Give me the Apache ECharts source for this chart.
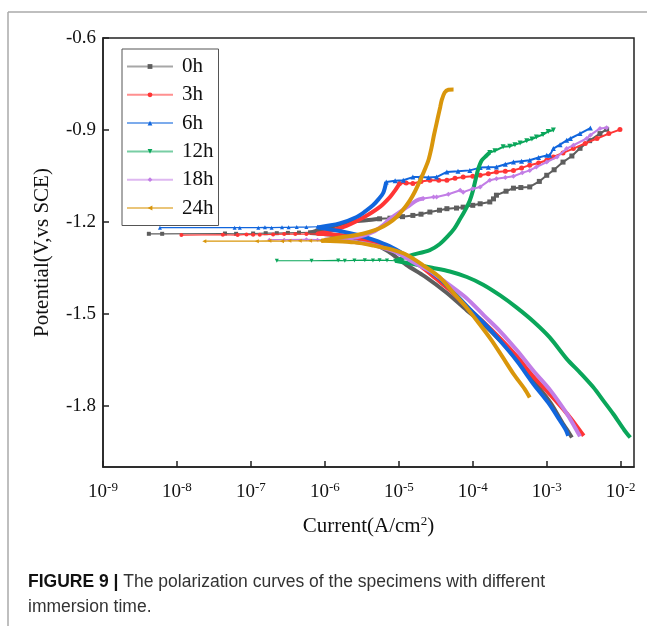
<!DOCTYPE html>
<html>
<head>
<meta charset="utf-8">
<script src="https://cdn.jsdelivr.net/npm/echarts@6/dist/echarts.min.js"></script>
<style>
  html, body { margin: 0; padding: 0; background: #fff; }
  #chart { width: 647px; height: 626px; }
</style>
</head>
<body>
<div id="chart"></div>
<script>
// x values are log10(current, A/cm2), y values are potential (V vs SCE)
const names = ['0h', '3h', '6h', '12h', '18h', '24h']
const colors = ['#5e5e5e', '#ff3535', '#1166dd', '#0aa65a', '#c27ee6', '#d9960b']
const symbols = ['rect', 'circle', 'triangle', 'triangle', 'diamond', 'triangle']
const rotations = [0, 0, 0, 180, 0, 90]

const xTicks = [-9, -8, -7, -6, -5, -4, -3, -2]
const yTicks = [-1.8, -1.5, -1.2, -0.9, -0.6]

// horizontal spikes at Ecorr
const tail0h = [[-8.38, -1.239], [-8.20, -1.239], [-7.35, -1.238], [-7.20, -1.239], [-6.97, -1.238], [-6.80, -1.237], [-6.65, -1.237], [-6.50, -1.236], [-6.35, -1.235], [-6.20, -1.234]]
const tail3h = [[-7.94, -1.243], [-7.38, -1.242], [-7.18, -1.243], [-7.06, -1.241], [-6.97, -1.242], [-6.88, -1.242], [-6.70, -1.241], [-6.55, -1.240], [-6.40, -1.240], [-6.25, -1.240], [-6.10, -1.239]]
const tail6h = [[-8.23, -1.219], [-7.22, -1.219], [-7.15, -1.219], [-6.90, -1.219], [-6.81, -1.218], [-6.72, -1.219], [-6.58, -1.218], [-6.49, -1.218], [-6.38, -1.217], [-6.25, -1.217], [-6.10, -1.216]]
const tail12h = [[-6.65, -1.327], [-6.18, -1.327], [-5.82, -1.326], [-5.73, -1.327], [-5.60, -1.326], [-5.46, -1.325], [-5.35, -1.326], [-5.26, -1.325], [-5.16, -1.326], [-5.05, -1.327]]
const tail18h = [[-6.75, -1.258], [-6.55, -1.258], [-6.25, -1.257], [-6.10, -1.258], [-6.00, -1.258]]
const tail24h = [[-7.63, -1.263], [-6.92, -1.263], [-6.75, -1.262], [-6.58, -1.263], [-6.48, -1.262], [-6.34, -1.262], [-6.20, -1.262], [-6.05, -1.262]]

// cathodic branches, from the low-potential end up to Ecorr
const cath0h = [[-2.66, -1.904], [-2.72, -1.880], [-2.78, -1.859], [-2.95, -1.790], [-3.18, -1.718], [-3.40, -1.650], [-3.63, -1.588], [-3.85, -1.535], [-4.08, -1.489], [-4.35, -1.432], [-4.65, -1.378], [-4.90, -1.340], [-5.15, -1.295], [-5.35, -1.270], [-5.60, -1.253], [-5.85, -1.243], [-6.20, -1.236]]
const cath3h = [[-2.50, -1.898], [-2.60, -1.865], [-2.73, -1.825], [-2.95, -1.765], [-3.18, -1.705], [-3.40, -1.640], [-3.63, -1.580], [-3.85, -1.528], [-4.08, -1.478], [-4.30, -1.425], [-4.50, -1.385], [-4.70, -1.345], [-4.89, -1.315], [-5.10, -1.288], [-5.35, -1.266], [-5.60, -1.250], [-5.85, -1.242], [-6.10, -1.239]]
const cath6h = [[-2.71, -1.898], [-2.74, -1.880], [-2.82, -1.849], [-2.98, -1.790], [-3.18, -1.729], [-3.40, -1.655], [-3.63, -1.588], [-3.85, -1.530], [-4.08, -1.475], [-4.30, -1.420], [-4.45, -1.385], [-4.67, -1.345], [-4.90, -1.310], [-5.12, -1.280], [-5.35, -1.258], [-5.57, -1.242], [-5.80, -1.230], [-6.10, -1.218]]
const cath12h = [[-1.87, -1.904], [-1.95, -1.880], [-2.10, -1.827], [-2.23, -1.785], [-2.37, -1.740], [-2.55, -1.692], [-2.73, -1.647], [-2.96, -1.577], [-3.18, -1.525], [-3.41, -1.479], [-3.63, -1.440], [-3.86, -1.405], [-4.08, -1.380], [-4.31, -1.362], [-4.55, -1.350], [-4.80, -1.338], [-5.05, -1.327]]
const cath18h = [[-2.55, -1.900], [-2.62, -1.870], [-2.73, -1.825], [-2.95, -1.750], [-3.18, -1.686], [-3.40, -1.620], [-3.63, -1.557], [-3.85, -1.505], [-4.08, -1.450], [-4.35, -1.400], [-4.58, -1.360], [-4.80, -1.333], [-5.03, -1.300], [-5.25, -1.282], [-5.44, -1.271], [-5.70, -1.263], [-6.00, -1.258]]
const cath24h = [[-3.23, -1.773], [-3.30, -1.745], [-3.45, -1.696], [-3.60, -1.640], [-3.75, -1.585], [-3.92, -1.530], [-4.08, -1.481], [-4.25, -1.435], [-4.45, -1.380], [-4.65, -1.345], [-4.89, -1.308], [-5.10, -1.290], [-5.35, -1.277], [-5.60, -1.267], [-5.85, -1.263], [-6.05, -1.262]]

// smooth anodic rise, from Ecorr upward
const rise0h = [[-6.20, -1.236], [-6.05, -1.225], [-5.85, -1.212], [-5.66, -1.200], [-5.44, -1.195], [-5.26, -1.190]]
const rise3h = [[-6.10, -1.239], [-5.90, -1.228], [-5.70, -1.212], [-5.48, -1.186], [-5.26, -1.152], [-5.12, -1.119], [-5.05, -1.097], [-4.99, -1.075]]
const rise6h = [[-6.10, -1.218], [-5.80, -1.205], [-5.57, -1.184], [-5.45, -1.165], [-5.35, -1.146], [-5.27, -1.125], [-5.21, -1.105], [-5.17, -1.070]]
const rise12h = [[-5.05, -1.327], [-4.85, -1.310], [-4.58, -1.292], [-4.45, -1.273], [-4.35, -1.250], [-4.25, -1.222], [-4.17, -1.190], [-4.11, -1.165], [-4.04, -1.130], [-4.00, -1.100], [-3.96, -1.060], [-3.93, -1.030], [-3.88, -1.000], [-3.82, -0.985], [-3.77, -0.974]]
const rise18h = [[-6.00, -1.258], [-5.57, -1.250], [-5.35, -1.233], [-5.22, -1.212], [-5.12, -1.190], [-5.00, -1.170], [-4.89, -1.152], [-4.76, -1.130], [-4.67, -1.124]]
const rise24h = [[-6.05, -1.262], [-5.80, -1.251], [-5.57, -1.243], [-5.40, -1.233], [-5.26, -1.221], [-5.14, -1.205], [-5.03, -1.184], [-4.94, -1.160], [-4.85, -1.130], [-4.78, -1.100], [-4.71, -1.064], [-4.65, -1.030], [-4.60, -0.999], [-4.56, -0.960], [-4.53, -0.923], [-4.50, -0.890], [-4.47, -0.857], [-4.44, -0.825], [-4.42, -0.803], [-4.38, -0.778], [-4.33, -0.769], [-4.26, -0.768]]

// noisy anodic parts drawn with markers
const anodic0h = [[-5.26, -1.190], [-5.12, -1.188], [-4.95, -1.183], [-4.81, -1.179], [-4.70, -1.175], [-4.58, -1.168], [-4.45, -1.162], [-4.35, -1.157], [-4.22, -1.155], [-4.13, -1.152], [-4.00, -1.146], [-3.90, -1.141], [-3.77, -1.135], [-3.72, -1.125], [-3.68, -1.113], [-3.55, -1.100], [-3.45, -1.090], [-3.35, -1.088], [-3.23, -1.086], [-3.10, -1.068], [-3.00, -1.048], [-2.90, -1.030], [-2.78, -1.005], [-2.66, -0.985], [-2.55, -0.960], [-2.42, -0.935], [-2.28, -0.912], [-2.19, -0.898]]
const anodic3h = [[-4.99, -1.075], [-4.90, -1.073], [-4.81, -1.075], [-4.70, -1.068], [-4.58, -1.064], [-4.46, -1.064], [-4.35, -1.064], [-4.24, -1.058], [-4.13, -1.054], [-4.00, -1.051], [-3.90, -1.048], [-3.79, -1.043], [-3.68, -1.037], [-3.56, -1.035], [-3.45, -1.032], [-3.34, -1.024], [-3.23, -1.015], [-3.11, -1.008], [-3.00, -0.999], [-2.91, -0.988], [-2.78, -0.975], [-2.64, -0.961], [-2.48, -0.944], [-2.32, -0.928], [-2.16, -0.912], [-2.01, -0.899]]
const anodic6h = [[-5.17, -1.070], [-5.05, -1.066], [-4.94, -1.064], [-4.81, -1.054], [-4.71, -1.054], [-4.60, -1.055], [-4.49, -1.054], [-4.35, -1.037], [-4.20, -1.035], [-4.04, -1.032], [-3.90, -1.023], [-3.79, -1.022], [-3.68, -1.021], [-3.56, -1.012], [-3.45, -1.005], [-3.34, -1.002], [-3.23, -0.999], [-3.11, -0.990], [-3.00, -0.983], [-2.96, -0.983], [-2.91, -0.961], [-2.82, -0.948], [-2.73, -0.934], [-2.68, -0.928], [-2.55, -0.912], [-2.41, -0.894]]
const anodic12h = [[-3.77, -0.974], [-3.70, -0.968], [-3.59, -0.955], [-3.50, -0.953], [-3.43, -0.948], [-3.36, -0.943], [-3.27, -0.935], [-3.20, -0.930], [-3.14, -0.923], [-3.05, -0.915], [-2.98, -0.905], [-2.91, -0.900]]
const anodic18h = [[-4.67, -1.124], [-4.53, -1.119], [-4.49, -1.119], [-4.33, -1.110], [-4.17, -1.097], [-4.13, -1.103], [-4.00, -1.092], [-3.90, -1.086], [-3.77, -1.064], [-3.68, -1.059], [-3.56, -1.055], [-3.45, -1.051], [-3.33, -1.040], [-3.23, -1.032], [-3.14, -1.021], [-3.00, -1.005], [-2.86, -0.988], [-2.73, -0.961], [-2.64, -0.950], [-2.46, -0.928], [-2.41, -0.917], [-2.28, -0.895], [-2.19, -0.893]]
const anodic24h = []

const tails = [tail0h, tail3h, tail6h, tail12h, tail18h, tail24h]
const caths = [cath0h, cath3h, cath6h, cath12h, cath18h, cath24h]
const rises = [rise0h, rise3h, rise6h, rise12h, rise18h, rise24h]
const anodics = [anodic0h, anodic3h, anodic6h, anodic12h, anodic18h, anodic24h]

const serif = '"Liberation Serif", "Times New Roman", serif'
const sans = '"Liberation Sans", Arial, sans-serif'

const series = []
names.forEach((name, i) => {
  const base = {
    type: 'line',
    name,
    color: colors[i],
    symbol: symbols[i],
    symbolRotate: rotations[i],
    showAllSymbol: true,
    z: 2 + i
  }
  // thin tail goes first so the legend icon uses its style
  series.push({ ...base, data: tails[i], symbolSize: 4, lineStyle: { width: 1.2 } })
  series.push({ ...base, data: caths[i], showSymbol: false, smooth: 0.3, lineStyle: { width: 4 } })
  series.push({ ...base, data: rises[i], showSymbol: false, smooth: 0.3, lineStyle: { width: 4 } })
  if (anodics[i].length) {
    series.push({ ...base, data: anodics[i], symbolSize: 5, lineStyle: { width: 2 } })
  }
})

const chart = echarts.init(document.getElementById('chart'))
chart.setOption({
  animation: false,
  grid: { left: 103, right: 13, top: 38, bottom: 159, show: true, borderColor: '#222', borderWidth: 1.5 },
  legend: {
    data: names,
    orient: 'vertical',
    left: 122,
    top: 49,
    itemWidth: 46,
    itemHeight: 6,
    itemGap: 7.3,
    padding: [7, 5, 7, 4],
    borderColor: '#555',
    borderWidth: 1,
    lineStyle: { opacity: 0.55 },
    textStyle: { fontFamily: serif, fontSize: 21, color: '#111', padding: [0, 0, 0, 4], lineHeight: 20 }
  },
  xAxis: {
    type: 'value',
    min: -9,
    max: -1.82,
    name: '{t|Current(A/cm}{s|2}{t|)}',
    nameLocation: 'middle',
    nameGap: 48,
    nameTextStyle: {
      rich: {
        t: { fontFamily: serif, fontSize: 21, color: '#111' },
        s: { fontFamily: serif, fontSize: 13, color: '#111', padding: [0, 0, 10, 0] }
      }
    },
    axisLine: { lineStyle: { color: '#222', width: 1.5 } },
    axisTick: { inside: true, length: 6, customValues: xTicks, lineStyle: { color: '#222', width: 1.5 } },
    axisLabel: {
      customValues: xTicks,
      margin: 14,
      formatter: (v) => '{b|10}{s|' + v + '}',
      rich: {
        b: { fontFamily: serif, fontSize: 19, color: '#111' },
        s: { fontFamily: serif, fontSize: 13, color: '#111', padding: [0, 0, 10, 0] }
      }
    },
    splitLine: { show: false }
  },
  yAxis: {
    type: 'value',
    min: -2.0,
    max: -0.6,
    name: 'Potential(V,vs SCE)',
    nameLocation: 'middle',
    nameGap: 50,
    nameTextStyle: { fontFamily: serif, fontSize: 21, color: '#111' },
    axisLine: { lineStyle: { color: '#222', width: 1.5 } },
    axisTick: { inside: true, length: 6, customValues: yTicks, lineStyle: { color: '#222', width: 1.5 } },
    axisLabel: {
      customValues: yTicks,
      margin: 7,
      formatter: (v) => v.toFixed(1),
      fontFamily: serif,
      fontSize: 19,
      color: '#111'
    },
    splitLine: { show: false }
  },
  title: {
    text: '{b|FIGURE 9 |} The polarization curves of the specimens with different\nimmersion time.',
    left: 23,
    top: 565,
    textStyle: {
      fontFamily: sans,
      fontSize: 17.5,
      fontWeight: 'normal',
      color: '#333',
      lineHeight: 25,
      rich: {
        b: { fontFamily: sans, fontSize: 17.5, fontWeight: 'bold', color: '#111', lineHeight: 25 }
      }
    }
  },
  graphic: [
    { type: 'line', shape: { x1: 8, y1: 12, x2: 647, y2: 12 }, style: { stroke: '#aaa', lineWidth: 1.5 } },
    { type: 'line', shape: { x1: 8, y1: 12, x2: 8, y2: 626 }, style: { stroke: '#aaa', lineWidth: 1.5 } }
  ],
  series
})
</script>
</body>
</html>
